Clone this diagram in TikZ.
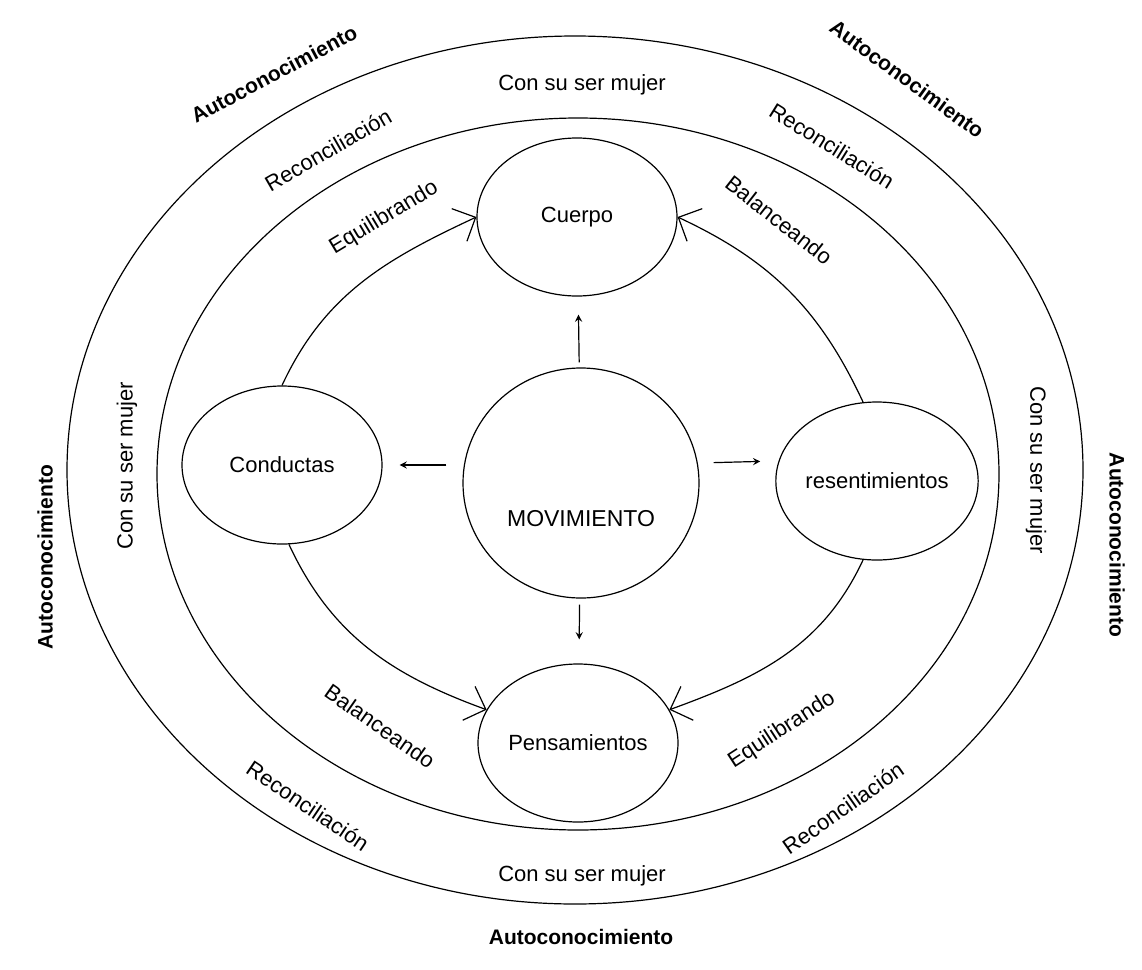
\documentclass[tikz,border=0pt]{standalone}
\usepackage{fontspec}
\setmainfont{Liberation Sans}
\usetikzlibrary{shapes.geometric, arrows, arrows.meta}
\tikzstyle{topic} = [ellipse, draw, minimum width=100pt, minimum height=79pt, inner sep=0pt, text centered, line width=0.6pt, font=\fontsize{11}{13}\selectfont]
\tikzstyle{ring} = [line width=0.6pt]
\tikzstyle{lbl} = [font=\fontsize{11}{13}\selectfont, inner sep=0pt]
\tikzstyle{bold} = [font=\fontsize{10.5}{12}\selectfont\bfseries, inner sep=0pt]
\tikzstyle{arrow} = [line width=0.6pt, ->, >=stealth]
\tikzstyle{barb} = [line width=0.6pt, -{Straight Barb[length=9pt,width=18pt]}]

\begin{document}
\begin{tikzpicture}[x=0.5pt, y=-0.5pt]
\useasboundingbox (0,0) rectangle (1142,970);

% Rings
\draw [ring] (575,470) ellipse [x radius=508, y radius=434];
\draw [ring] (578,474) ellipse [x radius=421, y radius=356];

% Centre and topics
\node (mov) [topic, minimum width=118pt, minimum height=115pt, label={[lbl, yshift=-18pt, font=\fontsize{11.5}{14}\selectfont]center:MOVIMIENTO}] at (581,483) {};
\node (cuerpo) [topic] at (577,217) {Cuerpo};
\node (cond) [topic] at (282,465) {Conductas};
\node (res) [topic] at (877,481) {resentimientos};
\node (pens) [topic] at (578,743) {Pensamientos};

% Short arrows
\draw [arrow, shorten <=2.5pt, shorten >=9pt] (mov) -- (cuerpo);
\draw [arrow, shorten <=3pt, shorten >=12pt] (mov) -- (pens);
\draw [arrow, shorten <=8pt, shorten >=8.5pt] ([yshift=9pt]mov.west) -- (cond.east);
\draw [arrow, shorten <=7pt, shorten >=7.5pt] ([yshift=10pt]mov.east) -- ([yshift=10pt]res.west);

% Curved connectors
\draw [barb] (cond.north) to [out=65, in=205] (cuerpo.west);
\draw [barb] (res.100) to [out=115, in=-25] (cuerpo.east);
\draw [barb] (cond.-85) to [out=-65, in=160] (pens.160);
\draw [barb] (res.-100) to [out=-115, in=20] (pens.20);

% Ring labels
\node (ct) [lbl] at (582,85) {Con su ser mujer};
\node (cb) [lbl] at (582,876) {Con su ser mujer};
\node (cl) [lbl, rotate=90] at (127,466) {Con su ser mujer};
\node (cr) [lbl, rotate=-90] at (1036,470) {Con su ser mujer};

\node (r1) [lbl, rotate=30] at (328,150) {Reconciliación};
\node (r2) [lbl, rotate=-32] at (832,146) {Reconciliación};
\node (r3) [lbl, rotate=-34] at (308,806) {Reconciliación};
\node (r4) [lbl, rotate=35] at (843,808) {Reconciliación};

\node (e1) [lbl, rotate=31] at (384,218) {Equilibrando};
\node (e2) [lbl, rotate=33] at (782,730) {Equilibrando};
\node (b1) [lbl, rotate=-38] at (779,220) {Balanceando};
\node (b2) [lbl, rotate=-35] at (380,726) {Balanceando};

% Outer labels
\node (a1) [bold, rotate=28] at (274,74) {Autoconocimiento};
\node (a2) [bold, rotate=-36] at (907,79) {Autoconocimiento};
\node (a3) [bold, rotate=90] at (45,557) {Autoconocimiento};
\node (a4) [bold, rotate=-90] at (1117,545) {Autoconocimiento};
\node (a5) [bold] at (581,937) {Autoconocimiento};

\end{tikzpicture}
\end{document}
